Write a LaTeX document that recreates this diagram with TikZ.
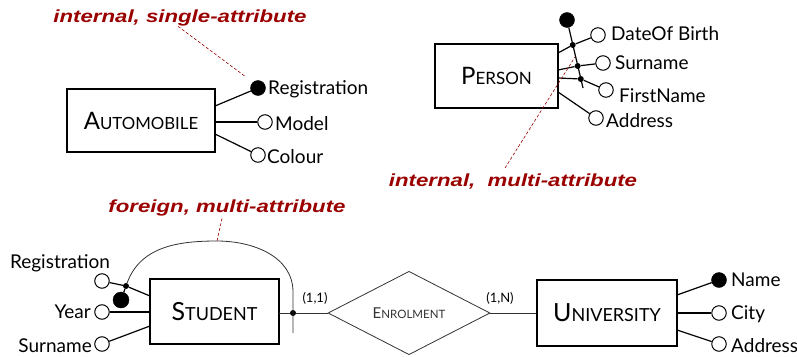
\documentclass[tikz,border=0pt]{standalone}
\usepackage{fontspec}
\setmainfont{Lato}
\newfontfamily\redfont[FakeStretch=1.27]{Liberation Sans}
\usetikzlibrary{shapes.geometric,calc}
\definecolor{kred}{HTML}{9A0000}
\newcommand\entsc[4]{{\fontsize{#1}{#1}\selectfont #3}{\fontsize{#2}{#2}\selectfont #4}}
\begin{document}
\begin{tikzpicture}[x=1pt,y=-1pt,
 ent/.style={draw,line width=1.2pt,inner sep=0pt},
 att/.style={circle,draw,line width=1pt,fill=white,minimum size=14.5pt,inner sep=0pt},
 key/.style={circle,draw,fill=black,minimum size=15pt,inner sep=0pt},
 jdot/.style={circle,fill=black,minimum size=6pt,inner sep=0pt},
 lbl/.style={font=\fontsize{19}{19}\selectfont,inner sep=0pt},
 card/.style={font=\fontsize{13}{13}\selectfont,inner sep=0pt},
 note/.style={text=kred,inner sep=0pt,font=\redfont\bfseries\itshape\fontsize{17.5}{17.5}\selectfont},
 conn/.style={line width=1.2pt},
 thin/.style={line width=0.8pt,black!80},
 ann/.style={kred,densely dashed,line width=0.6pt}
]
\path[use as bounding box,fill=white] (0,0) rectangle (797,356);

% ---------- notes
\node[note] (n1) at (180,18) {internal, single-attribute};
\node[note] (n2) at (513,182) {internal,\ \ multi-attribute};
\node[note] (n3) at (227,208) {foreign, multi-attribute};

% ---------- AUTOMOBILE
\node[ent,minimum width=148pt,minimum height=63pt] (auto) at (141,120.5) {\entsc{24}{16.8}{A}{UTOMOBILE}};
\node[key] (areg) at (258,88) {};
\node[att] (amod) at (265,122) {};
\node[att] (acol) at (258,155) {};
\coordinate (ae1) at (215,106);
\coordinate (ae2) at (215,122);
\coordinate (ae3) at (215,134);
\draw[conn] (ae1) -- (areg);
\draw[conn] (ae2) -- (amod);
\draw[conn] (ae3) -- (acol);
\node[lbl,anchor=west] (tareg) at (268,89) {Registration};
\node[lbl,anchor=west] (tamod) at (275,124) {Model};
\node[lbl,anchor=west] (tacol) at (267,157) {Colour};
\coordinate (n1e) at (246,77);
\draw[ann] (n1.south) ++(-2,0) coordinate (n1s) -- (n1e);

% ---------- PERSON
\node[ent,minimum width=123pt,minimum height=64pt] (pers) at (496.5,76) {\entsc{24}{17}{P}{ERSON}};
\node[key] (pkey) at (567,20) {};
\coordinate (pend) at (583,88);
\node[jdot] (pj1) at (572.7,45) {};
\node[jdot] (pj2) at (577.7,66) {};
\node[jdot] (pj3) at (580.8,79) {};
\draw[conn] (pkey) -- (pend);
\node[att] (pdob) at (598,35) {};
\node[att] (psur) at (603,63) {};
\node[att] (pfir) at (606,90) {};
\node[att] (padd) at (596,118) {};
\coordinate (pe1) at (558,53);
\coordinate (pe2) at (558,70);
\coordinate (pe3) at (558,78);
\coordinate (pe4) at (558,92);
\draw[conn] (pe1) -- (pj1) -- (pdob);
\draw[conn] (pe2) -- (pj2) -- (psur);
\draw[conn] (pe3) -- (pj3) -- (pfir);
\draw[conn] (pe4) -- (padd);
\node[lbl,anchor=west] (tpdob) at (611,34) {DateOf Birth};
\node[lbl,anchor=west] (tpsur) at (615,63) {Surname};
\node[lbl,anchor=west] (tpfir) at (619,96) {FirstName};
\node[lbl,anchor=west] (tpadd) at (606,121) {Address};
\coordinate (n2t) at (575,57);
\coordinate (n2e) at (505,168);
\draw[ann] (n2e) -- (n2t);

% ---------- STUDENT
\node[ent,minimum width=129pt,minimum height=65pt] (stud) at (214.5,311.5) {\entsc{25}{18}{S}{TUDENT}};
\node[att] (sreg) at (102,281) {};
\node[att] (syear) at (102,312) {};
\node[att] (ssur) at (102,344) {};
\node[jdot] (sj) at (126,286) {};
\node[key,minimum size=16pt] (skey) at (121,300) {};
\coordinate (se1) at (150,296);
\coordinate (se2) at (150,312);
\coordinate (se3) at (150,326);
\draw[conn] (sreg) -- (sj) -- (se1);
\draw[conn] (sj) -- (skey);
\draw[conn] (syear) -- (se2);
\draw[conn] (ssur) -- (se3);
\node[lbl,anchor=center] (tsreg) at (60,263) {Registration};
\node[lbl,anchor=east] (tsyear) at (91,312) {Year};
\node[lbl,anchor=east] (tssur) at (92,346) {Surname};

% ---------- ENROLMENT
\node[diamond,draw,thin,minimum width=162pt,minimum height=81pt,inner sep=0pt] (enr) at (409,313) {\entsc{15}{11.5}{E}{NROLMENT}};
\coordinate (se4) at (279,313);
\node[jdot] (sj2) at (293,313) {};
\coordinate (sv) at (293,333);
\coordinate (arctop) at (217,241);
\draw[thin] (sj) to[out=70,in=180] (arctop) to[out=0,in=90] (293,292) -- (sv);
\draw[thin] (se4) -- (sj2) -- (enr.west);
\draw[ann] (n3.south) ++(-5,2) coordinate (n3s) -- (arctop);
\node[card] (c11) at (315,298) {(1,1)};
\node[card] (c1n) at (500,298) {(1,N)};

% ---------- UNIVERSITY
\node[ent,minimum width=140pt,minimum height=66pt] (univ) at (607,313) {\entsc{25}{18}{U}{NIVERSITY}};
\draw[thin] (enr.east) -- (univ.west);
\node[key] (uname) at (719,280) {};
\node[att] (ucity) at (719,313) {};
\node[att] (uadd) at (719,344) {};
\coordinate (ue1) at (677,295);
\coordinate (ue2) at (677,313);
\coordinate (ue3) at (677,330);
\draw[conn] (ue1) -- (uname);
\draw[conn] (ue2) -- (ucity);
\draw[conn] (ue3) -- (uadd);
\node[lbl,anchor=west] (tuname) at (731,280) {Name};
\node[lbl,anchor=west] (tucity) at (731,314) {City};
\node[lbl,anchor=west] (tuadd) at (731,346) {Address};
\end{tikzpicture}
\end{document}
